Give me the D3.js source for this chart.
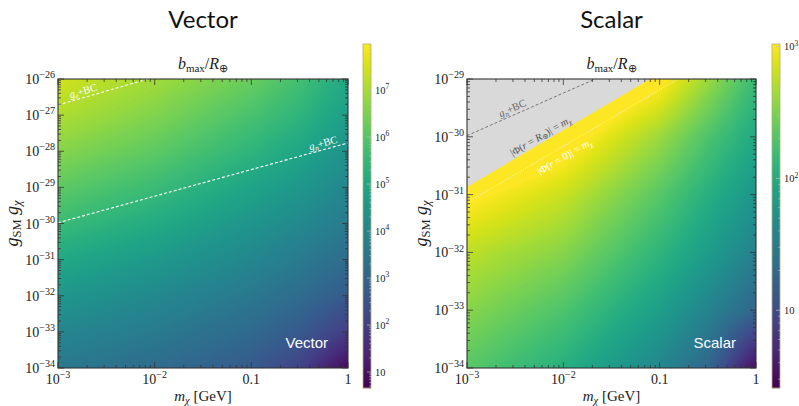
<!DOCTYPE html>
<html>
<head>
<meta charset="utf-8">
<script src="https://cdn.jsdelivr.net/npm/d3@7"></script>
<style>
  body { margin: 0; background: #fff; }
  svg text { font-family: "Liberation Serif", "Times New Roman", serif; }
</style>
</head>
<body>
<svg id="fig" width="799" height="406"></svg>
<script>
// ---- data (exponents are log10 values) ----
const massExp = [-3, -2, -1, -0.5, 0];          // grid columns, log10(m_chi / GeV)
const massTicks = [1e-3, 1e-2, 0.1, 1];
const massTickLabels = [["10", "−3"], ["10", "−2"], ["0.1", ""], ["1", ""]];

// Vector panel: rows = log10(g_SM g_chi), cols = massExp, values = log10(b_max/R_E)
const vectorGExp = [-26, -27, -28, -29, -30, -31, -32, -33, -34];
const vectorLogB = [
  [7.47, 6.96, 6.30, 5.78, 5.05],
  [7.10, 6.59, 5.86, 5.42, 4.76],
  [6.66, 6.15, 5.42, 4.98, 4.39],
  [6.15, 5.64, 4.91, 4.54, 4.03],
  [5.64, 5.13, 4.47, 4.10, 3.66],
  [5.05, 4.61, 4.03, 3.66, 3.22],
  [4.54, 4.10, 3.59, 3.22, 2.71],
  [4.03, 3.66, 3.15, 2.71, 1.98],
  [3.59, 3.22, 2.71, 2.12, 0.81]
];
const vectorBarRange = [0.66, 7.98];
const vectorBarExp = [1, 2, 3, 4, 5, 6, 7];

// Scalar panel
const scalarGExp = [-29, -30, -31, -32, -33, -34];
const scalarLogB = [
  [3.80, 3.54, 3.07, 2.63, 2.18],
  [3.54, 3.15, 2.63, 2.29, 1.98],
  [3.07, 2.81, 2.34, 2.05, 1.77],
  [2.76, 2.55, 2.11, 1.85, 1.56],
  [2.55, 2.29, 1.87, 1.58, 1.25],
  [2.34, 2.05, 1.61, 1.27, 0.49]
];
const scalarBarRange = [0.41, 3.02];
const scalarBarExp = [1, 2, 3];

// boundary lines, as [log10 m, log10 g] end points
const geBC = [[-3, -26.72], [-2.07, -26]];
const gnBC = [[-3, -29.98], [0, -27.77]];
const phiSurface = [[-3, -30.87], [-1.1, -29]];
const phiCenter = [[-3, -31.14], [-0.81, -29]];

const svg = d3.select("#fig");
const frameColor = "#333";

function supText(g, x, y, base, sup, anchor, size) {
  const t = g.append("text").attr("x", x).attr("y", y)
    .attr("text-anchor", anchor).attr("font-size", size).attr("fill", "#222");
  t.append("tspan").text(base);
  if (sup) t.append("tspan").attr("dy", -size * 0.42).attr("font-size", size * 0.72).text(sup);
  return t;
}

function drawPanel(p) {
  const x = d3.scaleLog().domain([1e-3, 1]).range([p.x0, p.x1]);
  const y = d3.scaleLog().domain([Math.pow(10, d3.min(p.gExp)), Math.pow(10, d3.max(p.gExp))]).range([p.y1, p.y0]);
  const color = d3.scaleSequential(d3.interpolateViridis).domain(p.barRange).clamp(true);

  // heat map raster
  const w = Math.round(p.x1 - p.x0), h = Math.round(p.y1 - p.y0);
  const canvas = document.createElement("canvas");
  canvas.width = w; canvas.height = h;
  const ctx = canvas.getContext("2d");
  const img = ctx.createImageData(w, h);
  const rowScales = p.grid.map(r => d3.scaleLinear().domain(massExp).range(r));
  for (let i = 0; i < w; i++) {
    const lm = Math.log10(x.invert(p.x0 + i + 0.5));
    const col = d3.scaleLinear().domain(p.gExp).range(rowScales.map(s => s(lm)));
    for (let j = 0; j < h; j++) {
      const lg = Math.log10(y.invert(p.y0 + j + 0.5));
      const c = d3.rgb(color(col(lg)));
      const k = (j * w + i) * 4;
      img.data[k] = c.r; img.data[k + 1] = c.g; img.data[k + 2] = c.b; img.data[k + 3] = 255;
    }
  }
  ctx.putImageData(img, 0, 0);
  const g = svg.append("g");
  g.append("image").attr("x", p.x0).attr("y", p.y0).attr("width", w).attr("height", h)
    .attr("preserveAspectRatio", "none").attr("href", canvas.toDataURL());

  const clipId = "clip" + p.id;
  g.append("clipPath").attr("id", clipId).append("rect")
    .attr("x", p.x0).attr("y", p.y0).attr("width", p.x1 - p.x0).attr("height", p.y1 - p.y0);
  const over = g.append("g").attr("clip-path", `url(#${clipId})`);

  const px = d => [x(Math.pow(10, d[0])), y(Math.pow(10, d[1]))];
  const line = d3.line().x(d => px(d)[0]).y(d => px(d)[1]);

  p.overlay(over, px, line);

  // frame + ticks
  const tk = g.append("g").attr("stroke", frameColor).attr("stroke-width", 0.8);
  const minorM = [];
  for (let e = -3; e < 0; e++) for (let k = 2; k < 10; k++) minorM.push(k * Math.pow(10, e));
  minorM.forEach(v => {
    tk.append("line").attr("x1", x(v)).attr("x2", x(v)).attr("y1", p.y1).attr("y2", p.y1 - 3);
    tk.append("line").attr("x1", x(v)).attr("x2", x(v)).attr("y1", p.y0).attr("y2", p.y0 + 3);
  });
  massTicks.forEach(v => {
    tk.append("line").attr("x1", x(v)).attr("x2", x(v)).attr("y1", p.y1).attr("y2", p.y1 - 6);
    tk.append("line").attr("x1", x(v)).attr("x2", x(v)).attr("y1", p.y0).attr("y2", p.y0 + 6);
  });
  const gMin = d3.min(p.gExp), gMax = d3.max(p.gExp);
  for (let e = gMin; e < gMax; e++) for (let k = 2; k < 10; k++) {
    const v = k * Math.pow(10, e);
    tk.append("line").attr("x1", p.x0).attr("x2", p.x0 + 3).attr("y1", y(v)).attr("y2", y(v));
    tk.append("line").attr("x1", p.x1).attr("x2", p.x1 - 3).attr("y1", y(v)).attr("y2", y(v));
  }
  p.gExp.forEach(e => {
    const v = Math.pow(10, e);
    tk.append("line").attr("x1", p.x0).attr("x2", p.x0 + 6).attr("y1", y(v)).attr("y2", y(v));
    tk.append("line").attr("x1", p.x1).attr("x2", p.x1 - 6).attr("y1", y(v)).attr("y2", y(v));
  });
  g.append("rect").attr("x", p.x0).attr("y", p.y0).attr("width", p.x1 - p.x0).attr("height", p.y1 - p.y0)
    .attr("fill", "none").attr("stroke", frameColor).attr("stroke-width", 1.1);

  // tick labels
  massTicks.forEach((v, i) => supText(g, x(v), 384, massTickLabels[i][0], massTickLabels[i][1], "middle", 14));
  p.gExp.forEach(e => supText(g, p.x0 - 3, y(Math.pow(10, e)) + 5, "10", "−" + Math.abs(e), "end", 14));

  // axis labels
  const cx = (p.x0 + p.x1) / 2;
  const xl = g.append("text").attr("x", cx).attr("y", 401).attr("text-anchor", "middle").attr("font-size", 15).attr("fill", "#222");
  xl.append("tspan").attr("font-style", "italic").text("m");
  xl.append("tspan").attr("font-style", "italic").attr("font-size", 10.5).attr("dy", 3).text("χ");
  xl.append("tspan").attr("dy", -3).text(" [GeV]");

  const yl = g.append("text").attr("transform", `translate(${p.x0 - 40},${(p.y0 + p.y1) / 2}) rotate(-90)`)
    .attr("text-anchor", "middle").attr("font-size", 18).attr("fill", "#222");
  yl.append("tspan").attr("font-style", "italic").text("g");
  yl.append("tspan").attr("font-size", 12.5).attr("dy", 3).text("SM");
  yl.append("tspan").attr("dy", -3).text(" ");
  yl.append("tspan").attr("font-style", "italic").text("g");
  yl.append("tspan").attr("font-style", "italic").attr("font-size", 12.5).attr("dy", 3).text("χ");

  const st = g.append("text").attr("x", cx).attr("y", 69).attr("text-anchor", "middle").attr("font-size", 16).attr("fill", "#222");
  st.append("tspan").attr("font-style", "italic").text("b");
  st.append("tspan").attr("font-size", 11).attr("dy", 3).text("max");
  st.append("tspan").attr("dy", -3).text("/");
  st.append("tspan").attr("font-style", "italic").text("R");
  st.append("tspan").attr("font-size", 11).attr("dy", 3).text("⊕");

  g.append("text").attr("x", cx).attr("y", 28).attr("text-anchor", "middle")
    .style("font-family", "Lato, 'Open Sans', sans-serif").attr("font-size", 24).attr("fill", "#111").text(p.title);
  g.append("text").attr("x", p.x1 - 20).attr("y", 348).attr("text-anchor", "end")
    .style("font-family", "'Liberation Sans', Arial, sans-serif").attr("font-size", 15).attr("fill", "#fff").text(p.title);

  // colour bar
  const cb = d3.scaleLog().domain(p.barRange.map(v => Math.pow(10, v))).range([388, 44]);
  const bar = svg.append("g");
  for (let yy = 44; yy < 388; yy++) {
    bar.append("rect").attr("x", p.barX).attr("y", yy).attr("width", 8).attr("height", 1.2)
      .attr("fill", color(Math.log10(cb.invert(yy + 0.5))));
  }
  bar.append("rect").attr("x", p.barX).attr("y", 44).attr("width", 8).attr("height", 344)
    .attr("fill", "none").attr("stroke", "#b8b070").attr("stroke-width", 0.8);
  for (let e = Math.floor(p.barRange[0]); e < Math.ceil(p.barRange[1]); e++) {
    for (let k = 2; k < 10; k++) {
      const v = k * Math.pow(10, e);
      const lv = Math.log10(v);
      if (lv < p.barRange[0] || lv > p.barRange[1]) continue;
      bar.append("line").attr("x1", p.barX + 6).attr("x2", p.barX + 8).attr("y1", cb(v)).attr("y2", cb(v))
        .attr("stroke", "#bbb").attr("stroke-width", 0.6);
    }
  }
  p.barExp.forEach(e => {
    const v = Math.pow(10, e);
    bar.append("line").attr("x1", p.barX + 4).attr("x2", p.barX + 8).attr("y1", cb(v)).attr("y2", cb(v))
      .attr("stroke", "#bbb").attr("stroke-width", 0.7);
    supText(bar, p.barX + 12, cb(v) + 3.5, "10", e > 1 ? String(e) : "", "start", 10.5);
  });
}

function lineLabel(g, px, seg, frac, offset, parts, fill, size) {
  const a = px(seg[0]), b = px(seg[1]);
  const ang = Math.atan2(b[1] - a[1], b[0] - a[0]) * 180 / Math.PI;
  const cxp = a[0] + (b[0] - a[0]) * frac, cyp = a[1] + (b[1] - a[1]) * frac;
  const t = g.append("text")
    .attr("transform", `translate(${cxp},${cyp}) rotate(${ang}) translate(0,${offset})`)
    .attr("text-anchor", "middle").attr("font-size", size).attr("fill", fill);
  parts.forEach(pt => {
    const s = t.append("tspan").text(pt[0]);
    if (pt[1] === "i") s.attr("font-style", "italic");
    if (pt[1] === "sub") s.attr("font-size", size * 0.7).attr("dy", 2);
    if (pt[1] === "isub") s.attr("font-size", size * 0.7).attr("dy", 2).attr("font-style", "italic");
    if (pt[1] === "up") s.attr("dy", -2);
  });
}

drawPanel({
  id: "v", title: "Vector", x0: 58, x1: 348, y0: 79, y1: 368, barX: 363,
  gExp: vectorGExp, grid: vectorLogB, barRange: vectorBarRange, barExp: vectorBarExp,
  overlay: (g, px, line) => {
    [geBC, gnBC].forEach(seg => g.append("path").attr("d", line(seg)).attr("fill", "none")
      .attr("stroke", "#fff").attr("stroke-width", 1.1).attr("stroke-dasharray", "3,2"));
    lineLabel(g, px, geBC, 0.3, -3, [["g", "i"], ["e", "isub"], ["+BC", "up"]], "#fff", 10.5);
    lineLabel(g, px, gnBC, 0.92, -3, [["g", "i"], ["n", "isub"], ["+BC", "up"]], "#fff", 10.5);
  }
});

drawPanel({
  id: "s", title: "Scalar", x0: 467, x1: 756, y0: 79, y1: 368, barX: 772,
  gExp: scalarGExp, grid: scalarLogB, barRange: scalarBarRange, barExp: scalarBarExp,
  overlay: (g, px, line) => {
    const top = d3.max(scalarGExp);
    const poly = [phiSurface[0], phiSurface[1], [massExp[0], top]];
    g.append("path").attr("d", line(poly) + "Z").attr("fill", "#d9d9d9");
    g.append("path").attr("d", line(gnBC)).attr("fill", "none")
      .attr("stroke", "#777").attr("stroke-width", 1).attr("stroke-dasharray", "3,2");
    g.append("path").attr("d", line(phiCenter)).attr("fill", "none")
      .attr("stroke", "#fff").attr("stroke-width", 0.8).attr("stroke-dasharray", "1,1.5").attr("opacity", 0.9);
    lineLabel(g, px, [gnBC[0], [-1.69, -29]], 0.38, -3, [["g", "i"], ["n", "isub"], ["+BC", "up"]], "#666", 10.5);
    lineLabel(g, px, phiSurface, 0.42, -3,
      [["|Φ(", ""], ["r", "i"], [" = ", ""], ["R", "i"], ["⊕", "sub"], [")| = ", "up"], ["m", "i"], ["χ", "isub"]], "#555", 10.5);
    lineLabel(g, px, phiCenter, 0.44, 13,
      [["|Φ(", ""], ["r", "i"], [" = 0)| = ", ""], ["m", "i"], ["χ", "isub"]], "#fff", 10.5);
  }
});
</script>
</body>
</html>
